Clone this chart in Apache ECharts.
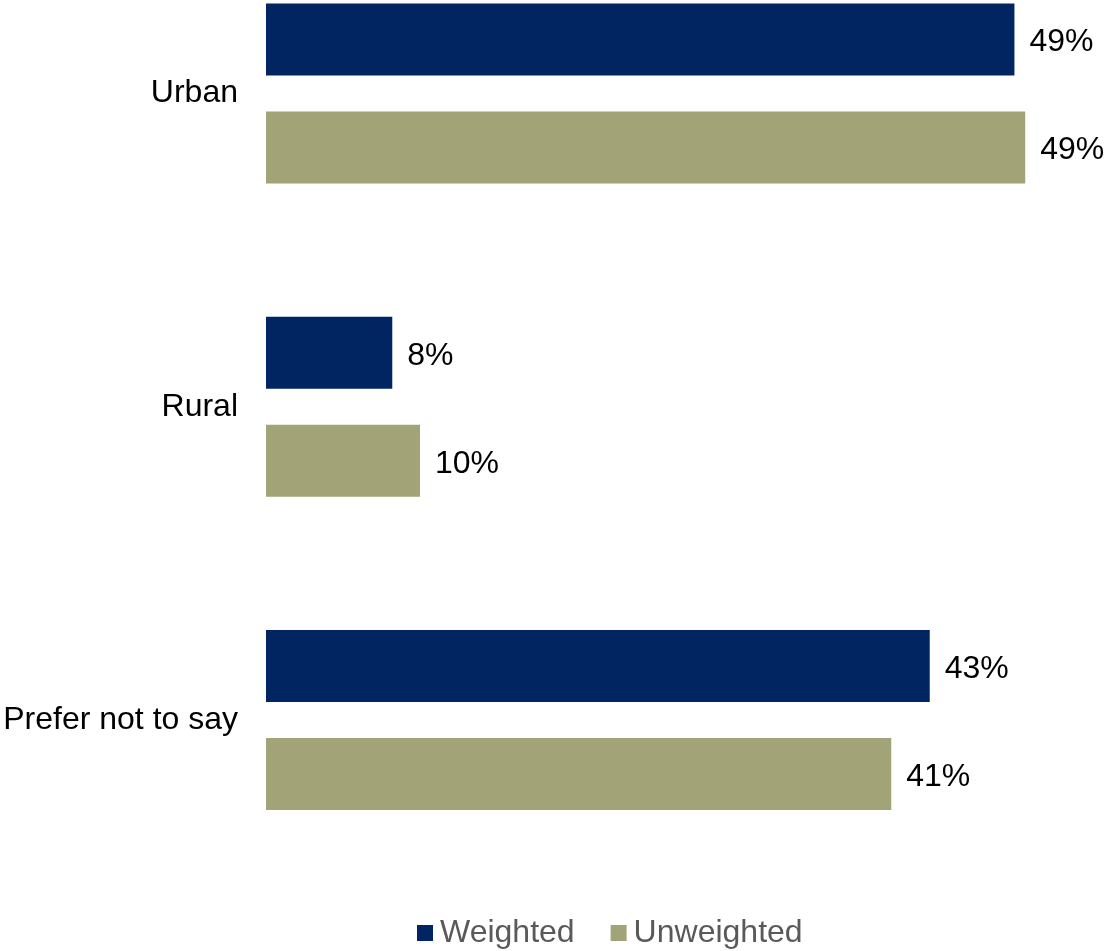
<!DOCTYPE html>
<html>
<head>
<meta charset="utf-8">
<script src="https://cdn.jsdelivr.net/npm/echarts@6/dist/echarts.min.js"></script>
<style>
  html, body { margin: 0; padding: 0; background: #ffffff; overflow: hidden; }
  /* the plot area starts above the visible page so the first group sits near the top edge */
  #chart { width: 1115px; height: 1014px; margin-top: -63px; }
</style>
</head>
<body>
<div id="chart"></div>
<script>
// Area type of respondents, weighted vs unweighted share (%)
const categories = ['Urban', 'Rural', 'Prefer not to say'];
const weighted = [48.6, 8.2, 43.1];
const unweighted = [49.3, 10.0, 40.6];
const seriesNames = ['Weighted', 'Unweighted'];

const FONT = '"Liberation Sans", Arial, sans-serif';
const pct = p => Math.round(p.value) + '%';

const chart = echarts.init(document.getElementById('chart'), null, { renderer: 'canvas' });

const barLabel = {
  show: true,
  position: 'right',
  distance: 15,
  offset: [0, 3],
  formatter: pct,
  color: '#000000',
  fontSize: 32,
  fontFamily: FONT
};

chart.setOption({
  animation: false,
  backgroundColor: '#ffffff',
  grid: { left: 266, right: 79, top: 0, bottom: 74.5, containLabel: false },
  legend: {
    data: seriesNames,
    left: 417,
    bottom: 2,
    padding: 0,
    icon: 'rect',
    itemWidth: 16,
    itemHeight: 16,
    itemGap: 36,
    textStyle: { color: '#595959', fontSize: 32, fontFamily: FONT, padding: [0, 0, 0, 2] }
  },
  xAxis: {
    type: 'value',
    min: 0,
    max: 50,
    show: false
  },
  yAxis: {
    type: 'category',
    data: categories,
    inverse: true,
    axisLine: { show: false },
    axisTick: { show: false },
    splitLine: { show: false },
    axisLabel: {
      color: '#000000', fontSize: 32, fontFamily: FONT, margin: 28,
      lineHeight: 38, padding: [6, 0, 0, 0]
    }
  },
  series: [
    {
      name: seriesNames[0],
      type: 'bar',
      data: weighted,
      barWidth: 72,
      barGap: '50%',
      itemStyle: { color: '#002561' },
      label: barLabel
    },
    {
      name: seriesNames[1],
      type: 'bar',
      data: unweighted,
      barWidth: 72,
      barGap: '50%',
      itemStyle: { color: '#A2A377' },
      label: barLabel
    }
  ]
});
</script>
</body>
</html>
